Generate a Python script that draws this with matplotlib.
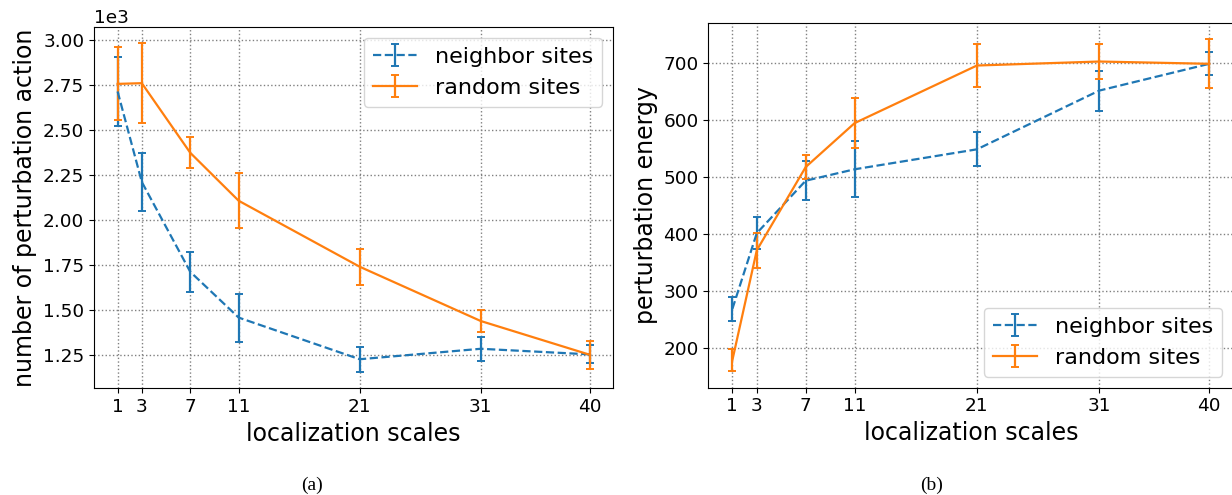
import matplotlib
matplotlib.use("Agg")
import matplotlib.pyplot as plt

scales = [1, 3, 7, 11, 21, 31, 40]
tick_labels = ["1", "3", "7", "11", "21", "31", "40"]

# panel (a): number of perturbation action
nb_action = [2712, 2210, 1712, 1458, 1227, 1285, 1254]
nb_action_err = [190, 160, 112, 133, 70, 68, 50]
rd_action = [2754, 2758, 2372, 2106, 1740, 1439, 1252]
rd_action_err = [203, 222, 87, 153, 100, 60, 77]

# panel (b): perturbation energy
nb_energy = [268, 401, 493, 513, 548, 651, 698]
nb_energy_err = [21, 28, 34, 49, 30, 35, 20]
rd_energy = [178, 371, 517, 594, 695, 702, 698]
rd_energy_err = [19, 31, 21, 44, 38, 30, 43]

W, H = 1232, 495
fig = plt.figure(figsize=(W / 100, H / 100), dpi=100)

def px_axes(x0, x1, y0, y1):
    return fig.add_axes([x0 / W, 1 - y1 / H, (x1 - x0) / W, (y1 - y0) / H])

ax1 = px_axes(94, 613.3, 26.7, 388.3)
ax2 = px_axes(708.5, 1233.1, 22.7, 387.7)

blue = "#1f77b4"
orange = "#ff7f0e"

def draw(ax, nb, nbe, rd, rde, ylabel, loc):
    ax.errorbar(scales, nb, yerr=nbe, color=blue, ls="--", lw=1.6,
                capsize=3, elinewidth=1.6, capthick=1.4, label="neighbor sites")
    ax.errorbar(scales, rd, yerr=rde, color=orange, ls="-", lw=1.6,
                capsize=3, elinewidth=1.6, capthick=1.4, label="random sites")
    ax.set_xticks(scales)
    ax.set_xticklabels(tick_labels)
    ax.tick_params(labelsize=13.3)
    ax.grid(True, ls=":", color="gray", lw=1)
    ax.set_xlabel("localization scales", fontsize=17)
    ax.set_ylabel(ylabel, fontsize=17)
    ax.legend(loc=loc, fontsize=16)

draw(ax1, nb_action, nb_action_err, rd_action, rd_action_err,
     "number of perturbation action", "upper right")
ax1.ticklabel_format(axis="y", style="sci", scilimits=(3, 3))
ax1.yaxis.get_offset_text().set_fontsize(13.3)

draw(ax2, nb_energy, nb_energy_err, rd_energy, rd_energy_err,
     "perturbation energy", "lower right")

fig.text(311.7 / W, 1 - 485 / H, "(a)", family="Liberation Serif",
         fontsize=14, ha="center", va="center")
fig.text(932 / W, 1 - 485 / H, "(b)", family="Liberation Serif",
         fontsize=14, ha="center", va="center")

fig.savefig("out.png", dpi=100)
